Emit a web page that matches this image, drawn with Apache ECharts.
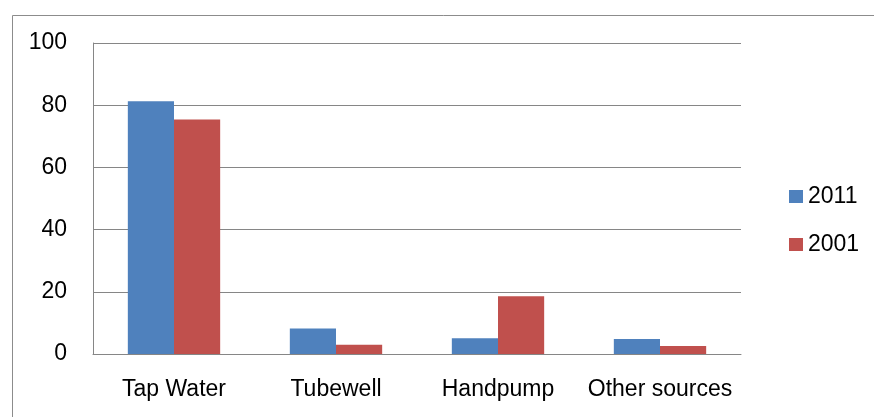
<!DOCTYPE html>
<html>
<head>
<meta charset="utf-8">
<script src="https://cdn.jsdelivr.net/npm/echarts@6/dist/echarts.min.js"></script>
<style>
html,body{margin:0;padding:0;background:#fff;}
#chart{width:874px;height:417px;}
</style>
</head>
<body>
<div id="chart"></div>
<script>
const categories = ['Tap Water', 'Tubewell', 'Handpump', 'Other sources'];
const seriesNames = ['2011', '2001'];
const values2011 = [81.3, 8.2, 5.1, 4.8];
const values2001 = [75.4, 3.0, 18.6, 2.6];
const yTicks = { min: 0, max: 100, interval: 20 };

const FONT = 'Liberation Sans';
const chart = echarts.init(document.getElementById('chart'), null, { renderer: 'canvas' });
chart.setOption({
  backgroundColor: '#fff',
  animation: false,
  graphic: [{
    type: 'rect',
    left: 10, top: 13,
    shape: { width: 900, height: 500 },
    style: { fill: 'none', stroke: '#8c8c8c', lineWidth: 1 },
    silent: true
  }],
  grid: { left: 93, right: 133, top: 43, bottom: 63, containLabel: false },
  legend: {
    orient: 'vertical',
    left: 784, top: 180,
    itemWidth: 14, itemHeight: 13,
    itemGap: 25,
    icon: 'rect',
    textStyle: { fontFamily: FONT, fontSize: 23, color: '#000', lineHeight: 23 },
    data: seriesNames
  },
  xAxis: {
    type: 'category',
    data: categories,
    axisLine: { show: true, lineStyle: { color: '#868686', width: 1 } },
    axisTick: { show: false },
    axisLabel: { interval: 0, fontFamily: FONT, fontSize: 23, color: '#000', margin: 24 }
  },
  yAxis: {
    type: 'value',
    min: yTicks.min, max: yTicks.max, interval: yTicks.interval,
    axisLine: { show: true, lineStyle: { color: '#868686', width: 1 } },
    axisTick: { show: false },
    splitLine: { show: true, lineStyle: { color: '#868686', width: 1 } },
    axisLabel: { fontFamily: FONT, fontSize: 23, color: '#000', margin: 26 }
  },
  series: [
    { name: seriesNames[0], type: 'bar', data: values2011, barGap: '0%', barCategoryGap: '43%',
      itemStyle: { color: '#4F81BD' } },
    { name: seriesNames[1], type: 'bar', data: values2001, barGap: '0%', barCategoryGap: '43%',
      itemStyle: { color: '#C0504D' } }
  ]
});
</script>
</body>
</html>
